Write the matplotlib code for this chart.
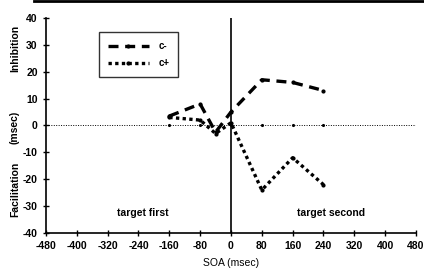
import matplotlib.pyplot as plt

soa = [-160, -80, -40, 0, 80, 160, 240]
c_minus = [3.5, 8, -2.5, 5, 17, 16, 13]
c_plus = [3, 2, -3, 1, -24, -12, -22]
base_x = [-160, -80, 0, 80, 160, 240]
base_y = [0, 0, 0, 0, 0, 0]

xticks = list(range(-480, 481, 80))
yticks = list(range(-40, 41, 10))

plt.rcParams['font.family'] = ['Liberation Sans', 'DejaVu Sans']
plt.rcParams['font.weight'] = 'bold'
plt.rcParams['axes.unicode_minus'] = False

fig = plt.figure(figsize=(4.24, 2.71), dpi=100)
ax = fig.add_axes([0.1085, 0.14, 0.8725, 0.794])

# null line
ax.axhline(0, color='black', lw=0.7, ls=(0, (1, 1.5)))
ax.plot(base_x, base_y, 'k.', ms=2.5)
ax.axvline(0, color='black', lw=1.2)

ax.plot(soa, c_minus, color='black', lw=2.4, ls=(0, (3, 2)), marker='.', ms=4, label='c-')
ax.plot(soa, c_plus, color='black', lw=2.4, ls=(0, (1, 1)), marker='.', ms=4, label='c+')

ax.set_xlim(-480, 480)
ax.set_ylim(-40, 40)
ax.set_xticks(xticks)
ax.set_yticks(yticks)
ax.tick_params(direction='inout', length=5, labelsize=7.5, width=1)
ax.spines['top'].set_visible(False)
ax.spines['right'].set_visible(False)
ax.spines['left'].set_linewidth(1.2)
ax.spines['bottom'].set_linewidth(1.2)

ax.set_xlabel('SOA (msec)', fontsize=7.5, labelpad=5)
fig.text(0.035, 0.82, 'Inhibition', rotation=90, fontsize=7.5, ha='center', va='center')
fig.text(0.035, 0.53, '(msec)', rotation=90, fontsize=7.5, ha='center', va='center')
fig.text(0.035, 0.30, 'Facilitation', rotation=90, fontsize=7.5, ha='center', va='center')

ax.text(-228, -32.5, 'target first', fontsize=7.5, ha='center', va='center')
ax.text(260, -32.5, 'target second', fontsize=7.5, ha='center', va='center')

leg = ax.legend(loc='upper left', bbox_to_anchor=(0.13, 0.955), fontsize=7,
                frameon=True, fancybox=False, edgecolor='black', handlelength=4.2,
                borderpad=0.9, labelspacing=0.7, handletextpad=1.0)
leg.get_frame().set_linewidth(1)
for t in leg.get_texts():
    t.set_ha('left')
leg._legend_box.align = 'left'

# scan border at top
fig.add_artist(plt.Line2D([0.08, 1.0], [0.995, 0.995], color='black', lw=2))

fig.savefig('out.png', dpi=100)
